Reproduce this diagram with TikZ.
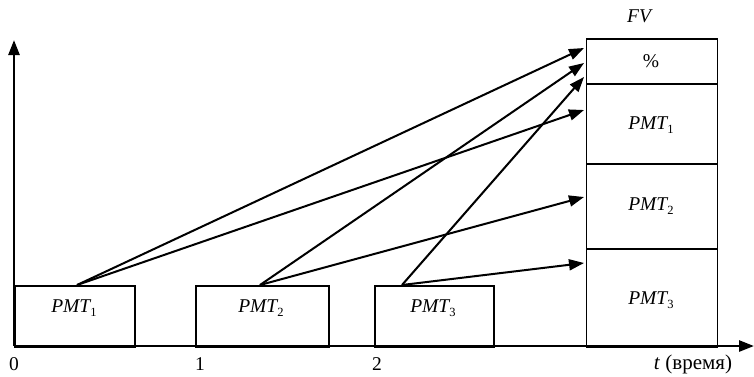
\documentclass[tikz,border=0pt]{standalone}
\usepackage{fontspec}
\setmainfont{Liberation Serif}
\usetikzlibrary{arrows.meta}
\newcommand{\pmt}[1]{\textit{PMT}\kern-1pt\raisebox{-0.4ex}{\fontsize{12.5}{13}\selectfont #1}}
\tikzset{
  box/.style={draw, line width=1.8pt, inner sep=0pt, anchor=north west},
  lbl/.style={font=\fontsize{19.5}{22}\selectfont, inner sep=0pt},
  flow/.style={line width=2pt, -{Triangle[length=15pt,width=11pt]}},
  axis/.style={line width=2.6pt, -{Triangle[length=15pt,width=11pt]}}
}
\begin{document}
\begin{tikzpicture}[x=1pt,y=-1pt]
\useasboundingbox (0,0) rectangle (754,376);
% axes
\coordinate (o) at (14,346);
\coordinate (ytip) at (14,40);
\coordinate (xtip) at (754,346);
\draw[axis] (o) -- (ytip);
\draw[axis] (o) -- (xtip);
% payment boxes
\node[box, minimum width=120pt, minimum height=61pt] (b1) at (14,285) {};
\node[box, minimum width=133pt, minimum height=61pt] (b2) at (195,285) {};
\node[box, minimum width=119pt, minimum height=61pt] (b3) at (374,285) {};
\node[lbl] (t1) at (74,308) {\pmt{1}};
\node[lbl] (t2) at (261,308) {\pmt{2}};
\node[lbl] (t3) at (433,308) {\pmt{3}};
% FV stack
\node[box, minimum width=131pt, minimum height=45pt] (f0) at (585.5,38) {};
\node[box, minimum width=131pt, minimum height=80pt] (f1) at (585.5,83) {};
\node[box, minimum width=131pt, minimum height=85pt] (f2) at (585.5,163) {};
\node[box, minimum width=131pt, minimum height=98pt] (f3) at (585.5,248) {};
\node[lbl] (fpct) at (651,61) {\%};
\node[lbl] (ft1) at (651,125) {\pmt{1}};
\node[lbl] (ft2) at (651,206) {\pmt{2}};
\node[lbl] (ft3) at (651,300) {\pmt{3}};
\node[lbl] (fv) at (640,16) {\textit{FV}};
% axis labels
\node[lbl] (n0) at (14,364) {0};
\node[lbl] (n1) at (200,364) {1};
\node[lbl] (n2) at (377,364) {2};
\node[lbl, font=\fontsize{21}{24}\selectfont] (tl) at (693,364) {\textit{t} (время)};
% arrow origins and ends
\coordinate (s1) at (77,285);
\coordinate (s2) at (260,285);
\coordinate (s3) at (402,285);
\coordinate (e1) at (584,48);
\coordinate (e2) at (584,63);
\coordinate (e3) at (584,77);
\coordinate (e4) at (584,110);
\coordinate (e5) at (584,197);
\coordinate (e6) at (584,263);
\draw[flow] (s1) -- (e1);
\draw[flow] (s1) -- (e4);
\draw[flow] (s2) -- (e2);
\draw[flow] (s2) -- (e5);
\draw[flow] (s3) -- (e3);
\draw[flow] (s3) -- (e6);
\end{tikzpicture}
\end{document}
